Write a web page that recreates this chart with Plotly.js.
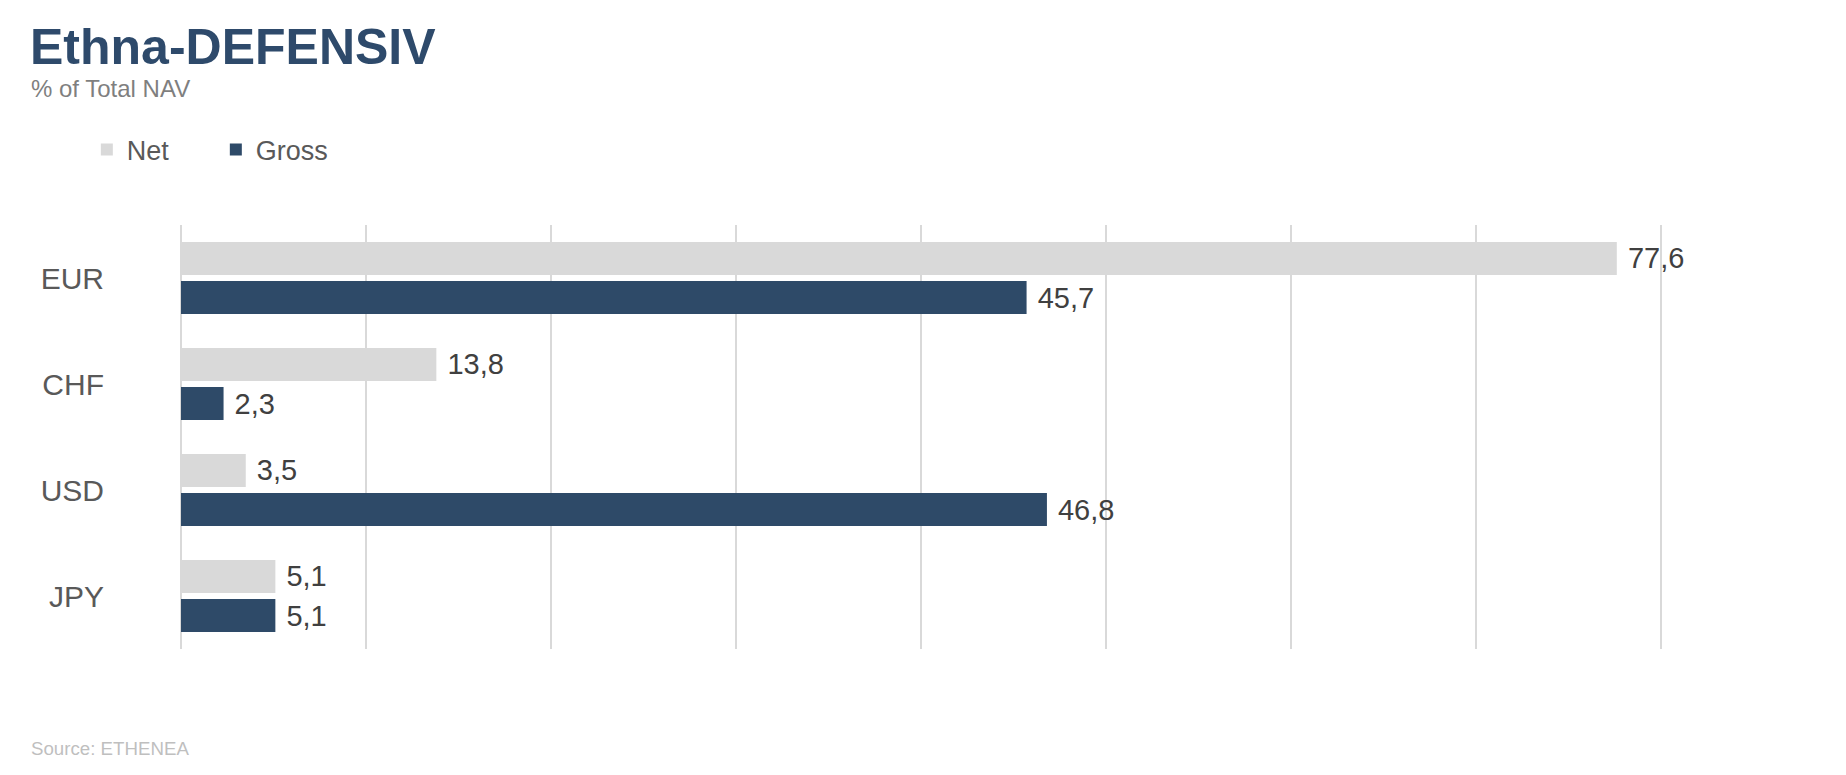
<!DOCTYPE html>
<html>
<head>
<meta charset="utf-8">
<script src="https://cdn.plot.ly/plotly-3.0.1.min.js"></script>
<style>
html,body{margin:0;padding:0;background:#fff;}
#chart{width:1846px;height:775px;}
</style>
</head>
<body>
<div id="chart"></div>
<script>
const categories = ["EUR", "CHF", "USD", "JPY"];
const netValues = [77.6, 13.8, 3.5, 5.1];
const grossValues = [45.7, 2.3, 46.8, 5.1];
const seriesNames = ["Net", "Gross"];
const xTicks = [0, 10, 20, 30, 40, 50, 60, 70, 80];

const FONT = "Liberation Sans, Arial, sans-serif";
const NET_COLOR = "#D9D9D9";
const GROSS_COLOR = "#2E4A68";

const textTpl = " %{x:.1f}";

const traces = [
  {
    type: "bar", orientation: "h", name: seriesNames[0],
    y: categories, x: netValues,
    marker: {color: NET_COLOR},
    texttemplate: textTpl, textposition: "outside", cliponaxis: false,
    textfont: {family: FONT, size: 29, color: "#404040"},
    hoverinfo: "skip"
  },
  {
    type: "bar", orientation: "h", name: seriesNames[1],
    y: categories, x: grossValues,
    marker: {color: GROSS_COLOR},
    texttemplate: textTpl, textposition: "outside", cliponaxis: false,
    textfont: {family: FONT, size: 29, color: "#404040"},
    hoverinfo: "skip"
  }
];

const layout = {
  width: 1846, height: 775,
  margin: {l: 181, r: 182, t: 225, b: 126},
  paper_bgcolor: "#fff", plot_bgcolor: "#fff",
  separators: ",.",
  barmode: "group", bargap: 0.264, bargroupgap: 0.16,
  font: {family: FONT},
  showlegend: true,
  legend: {
    orientation: "h", x: -0.0635, xanchor: "left", y: 1.177, yanchor: "middle",
    font: {family: FONT, size: 27, color: "#595959"},
    entrywidth: 84, entrywidthmode: "pixels",
    bgcolor: "rgba(0,0,0,0)", itemclick: false, itemdoubleclick: false
  },
  xaxis: {
    range: [0, 80.15], tickvals: xTicks, showticklabels: false,
    showgrid: true, gridcolor: "#D9D9D9", gridwidth: 2,
    zeroline: true, zerolinecolor: "#D9D9D9", zerolinewidth: 2,
    showline: false, ticks: "", fixedrange: true
  },
  yaxis: {
    type: "category", autorange: "reversed",
    showgrid: false, zeroline: false, showline: false, ticks: "",
    tickfont: {family: FONT, size: 30, color: "#595959"},
    ticklabelstandoff: 76, fixedrange: true
  },
  annotations: [
    {text: "<b>Ethna-DEFENSIV</b>", xref: "paper", yref: "paper", x: -0.1033, y: 1.4198,
     xanchor: "left", yanchor: "middle", showarrow: false,
     font: {family: FONT, size: 50, color: "#2E4A6B"}},
    {text: "% of Total NAV", xref: "paper", yref: "paper", x: -0.1028, y: 1.3208,
     xanchor: "left", yanchor: "middle", showarrow: false,
     font: {family: FONT, size: 24, color: "#7F7F7F"}},
    {text: "Source: ETHENEA", xref: "paper", yref: "paper", x: -0.1028, y: -0.2358,
     xanchor: "left", yanchor: "middle", showarrow: false,
     font: {family: FONT, size: 18.7, color: "#BFBFBF"}}
  ]
};

Plotly.newPlot("chart", traces, layout, {displayModeBar: false, staticPlot: true});
</script>
</body>
</html>
